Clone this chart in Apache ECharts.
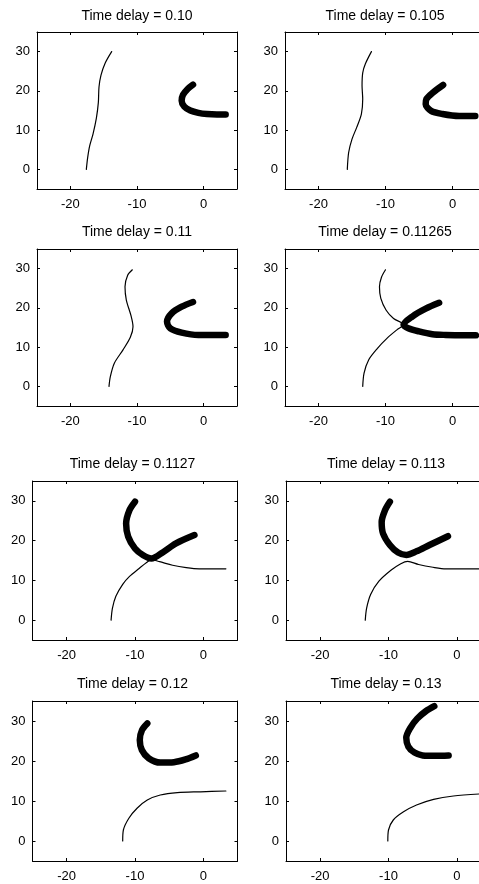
<!DOCTYPE html>
<html>
<head>
<meta charset="utf-8">
<script src="https://cdn.jsdelivr.net/npm/echarts@6/dist/echarts.min.js"></script>
<style>
  html, body { margin: 0; padding: 0; background: #fff; }
  #chart { width: 479px; height: 884px; }
</style>
</head>
<body>
<div id="chart"></div>
<script>
// Panel titles (time delay values)
const delays = ['0.10', '0.105', '0.11', '0.11265', '0.1127', '0.113', '0.12', '0.13'];

// Axis ticks and limits
const xTicks = [-20, -10, 0];
const yTicks = [0, 10, 20, 30];
const xLimits = [-25, 5];
const yLimits = [-5, 35];

// Thin trajectory (x, y) for each delay
const thin0100 = [[-17.6,0],[-17.4,3],[-17.1,6],[-16.6,9],[-16.1,13],[-15.8,17],[-15.7,21],[-15.4,24],[-14.8,27],[-13.8,30]];
const thin0105 = [[-15.7,0],[-15.5,4.3],[-15.0,7.7],[-14.3,10.7],[-13.6,14.1],[-13.4,17.9],[-13.5,21.3],[-13.4,24.6],[-13.0,26.9],[-12.1,30]];
const thin0110 = [[-14.2,0],[-14.0,2.5],[-13.4,5.9],[-12.1,9.3],[-11.0,12.5],[-10.6,15.2],[-10.9,18],[-11.6,22],[-11.8,25.4],[-11.4,28.3],[-10.7,29.7]];
const thin011265 = [[-13.4,0],[-13.2,3.4],[-12.5,6.8],[-11.2,9.7],[-9.75,12.3],[-8.3,14.4],[-7.3,15.7],[-8.8,17.3],[-9.9,19.4],[-10.7,22.4],[-10.9,25.4],[-10.6,27.8],[-10.0,29.7]];
const thin01127 = [[-13.5,0],[-13.3,3],[-12.8,6],[-11.8,9],[-10.8,11],[-9.4,13],[-8.3,14.5],[-7.6,15.2],[-6.4,14.7],[-4.5,13.8],[-2.5,13.2],[-0.6,12.9],[3.3,12.9]];
const thin0113 = [[-13.4,0],[-13.2,3],[-12.6,6.5],[-11.4,9.8],[-9.6,12.6],[-8.2,14.2],[-7.2,14.8],[-5.6,14],[-3.5,13.3],[-1.6,12.9],[3.3,12.9]];
const thin0120 = [[-11.8,0],[-11.7,2.75],[-10.9,5.7],[-9.7,8.2],[-8.2,10.25],[-6.3,11.5],[-3.8,12.1],[-0.4,12.3],[3.3,12.5]];
const thin0130 = [[-10.1,0],[-10.0,2.75],[-9.3,5.25],[-7.8,7.3],[-5.9,9.0],[-3.4,10.4],[-0.5,11.25],[3.3,11.75]];

// Thick trajectory (x, y) for each delay
const thick0100 = [[-1.6,21.6],[-2.4,20.5],[-3.1,19],[-3.3,17.5],[-2.9,16],[-2,15],[-0.8,14.4],[0.5,14.1],[2,14],[3.3,14]];
const thick0105 = [[-1.4,21.5],[-2.9,19.6],[-3.9,17.9],[-4.0,16.6],[-3.2,14.9],[-1.5,14.1],[1.0,13.6],[3.4,13.6]];
const thick0110 = [[-1.6,21.5],[-3.3,20.3],[-4.8,18.6],[-5.5,16.5],[-5.0,14.8],[-3.3,13.7],[-0.8,13.1],[3.3,13.1]];
const thick011265 = [[-2,21.3],[-4,19.8],[-6,17.8],[-7.3,15.7],[-6.6,14.8],[-5,14],[-3,13.3],[-1,13.1],[1.5,13],[3.5,13]];
const thick01127 = [[-10,29.8],[-10.8,27.7],[-11.3,24.3],[-11.0,21],[-10.0,18],[-8.8,16.3],[-7.6,15.5],[-5.9,17.1],[-4.0,19.3],[-1.3,21.4]];
const thick0113 = [[-9.8,29.8],[-10.5,27.7],[-11.0,24.7],[-10.8,21.8],[-9.8,18.9],[-8.6,17.0],[-7.4,16.4],[-5.9,17.3],[-4.0,18.9],[-1.3,21.1]];
const thick0120 = [[-8.2,29.4],[-8.97,27.75],[-9.3,25.25],[-9.0,22.75],[-8.0,20.7],[-6.3,19.6],[-4.3,19.7],[-2.6,20.4],[-1.1,21.4]];
const thick0130 = [[-3.3,33.7],[-4.5,32.5],[-5.8,30.6],[-6.8,28.3],[-7.4,25.8],[-7.1,23.6],[-6.2,22.1],[-5,21.4],[-3,21.3],[-1.2,21.4]];

const thinSets = [thin0100, thin0105, thin0110, thin011265, thin01127, thin0113, thin0120, thin0130];
const thickSets = [thick0100, thick0105, thick0110, thick011265, thick01127, thick0113, thick0120, thick0130];

// Panel boxes: [left, top, width, height]
const boxes = [
  [37, 32, 200, 157], [285, 32, 201, 157],
  [37, 249, 200, 157], [285, 249, 201, 157],
  [32.5, 481, 205, 159], [286, 481, 205, 159],
  [32.5, 701, 205, 160], [286, 701, 205, 160]
];

const FONT = '"Liberation Sans", Arial, Helvetica, sans-serif';

const grids = [], xAxes = [], yAxes = [], series = [], titles = [];

boxes.forEach(function (b, i) {
  grids.push({ left: b[0], top: b[1], width: b[2], height: b[3], show: false, outerBoundsMode: 'none', containLabel: false });

  const common = {
    gridIndex: i,
    splitLine: { show: false },
    axisLine: { show: true, onZero: false, lineStyle: { color: '#000', width: 1 } },
    axisTick: { show: true, inside: true, length: 3, lineStyle: { color: '#000' } }
  };
  // bottom / left axes with labels
  xAxes.push(Object.assign({}, common, {
    type: 'value', position: 'bottom', min: xLimits[0], max: xLimits[1],
    axisTick: Object.assign({}, common.axisTick, { customValues: xTicks }),
    axisLabel: { show: true, customValues: xTicks, color: '#000', fontSize: 13, fontFamily: FONT, margin: 9 }
  }));
  // top / right axes: box edges with ticks only
  xAxes.push(Object.assign({}, common, {
    type: 'value', position: 'top', min: xLimits[0], max: xLimits[1],
    axisTick: Object.assign({}, common.axisTick, { customValues: xTicks }),
    axisLabel: { show: false }
  }));
  yAxes.push(Object.assign({}, common, {
    type: 'value', position: 'left', min: yLimits[0], max: yLimits[1],
    axisTick: Object.assign({}, common.axisTick, { customValues: yTicks }),
    axisLabel: { show: true, customValues: yTicks, color: '#000', fontSize: 13, fontFamily: FONT, margin: 7 }
  }));
  yAxes.push(Object.assign({}, common, {
    type: 'value', position: 'right', min: yLimits[0], max: yLimits[1],
    axisTick: Object.assign({}, common.axisTick, { customValues: yTicks }),
    axisLabel: { show: false }
  }));

  series.push({
    type: 'line', xAxisIndex: 2 * i, yAxisIndex: 2 * i,
    data: thinSets[i], showSymbol: false, smooth: 0.3, silent: true, animation: false,
    lineStyle: { color: '#000', width: 1.2, cap: 'round', join: 'round' }
  });
  series.push({
    type: 'line', xAxisIndex: 2 * i, yAxisIndex: 2 * i,
    data: thickSets[i], showSymbol: false, smooth: 0.3, silent: true, animation: false,
    lineStyle: { color: '#000', width: 6.5, cap: 'round', join: 'round' }
  });

  titles.push({
    text: 'Time delay = ' + delays[i],
    left: b[0] + 100, top: b[1] - (i < 2 ? 23 : 24), textAlign: 'center', padding: 0,
    textStyle: { color: '#000', fontSize: 14, fontWeight: 'normal', fontFamily: FONT }
  });
});

const chart = echarts.init(document.getElementById('chart'), null, { renderer: 'canvas' });
chart.setOption({
  animation: false,
  backgroundColor: '#fff',
  title: titles,
  grid: grids,
  xAxis: xAxes,
  yAxis: yAxes,
  series: series
});
</script>
</body>
</html>
